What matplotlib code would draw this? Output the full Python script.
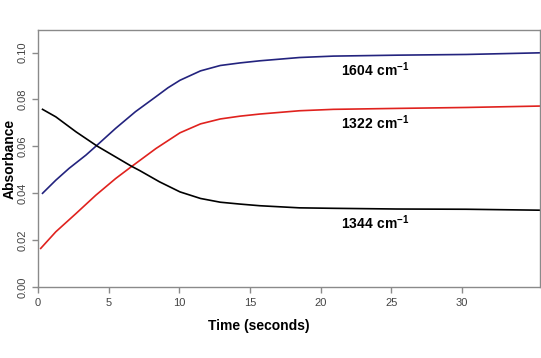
import matplotlib
matplotlib.use('Agg')
import matplotlib.pyplot as plt

plt.rcParams['font.family'] = ['Liberation Sans', 'DejaVu Sans']
plt.rcParams['mathtext.fontset'] = 'custom'
plt.rcParams['mathtext.rm'] = 'Liberation Sans'
plt.rcParams['mathtext.bf'] = 'Liberation Sans:bold'

# time (s) and absorbance
t_blue = [0.33, 1.27, 2.2, 3.4, 4.2, 5.5, 6.9, 8.35, 9.2, 10.05, 11.5, 12.9, 14.3, 15.7,
          18.5, 20.9, 25.4, 30.3, 35.5]
a_blue = [0.0400, 0.0456, 0.0506, 0.0563, 0.0606, 0.0677, 0.0748, 0.0812, 0.0850, 0.0882,
          0.0922, 0.0945, 0.0956, 0.0965, 0.0979, 0.0985, 0.0989, 0.0992, 0.0999]

t_red = [0.2, 1.27, 2.7, 4.1, 5.5, 6.6, 8.35, 10.05, 11.5, 12.9, 14.3, 15.7,
         18.5, 20.9, 25.4, 30.3, 35.5]
a_red = [0.0165, 0.0236, 0.0314, 0.0392, 0.0463, 0.0513, 0.0591, 0.0658, 0.0696,
         0.0717, 0.0729, 0.0738, 0.0752, 0.0758, 0.0762, 0.0766, 0.0772]

t_black = [0.33, 1.27, 2.7, 4.2, 5.5, 6.6, 7.2, 8.6, 10.05, 11.5, 12.9, 14.3, 15.7,
           18.5, 20.9, 25.4, 30.3, 35.5]
a_black = [0.0758, 0.0726, 0.0662, 0.0601, 0.0555, 0.0516, 0.0497, 0.0449, 0.0406,
           0.0378, 0.0362, 0.0354, 0.0347, 0.0338, 0.0336, 0.0333, 0.0332, 0.0328]

labels = [r'$\mathbf{1604\ cm^{-1}}$', r'$\mathbf{1322\ cm^{-1}}$', r'$\mathbf{1344\ cm^{-1}}$']
label_y = [0.0925, 0.0699, 0.0273]

fig = plt.figure(figsize=(5.41, 3.58), dpi=100)
ax = fig.add_axes([0.070, 0.198, 0.928, 0.718])

ax.plot(t_blue, a_blue, color='#23237e', lw=1.2)
ax.plot(t_red, a_red, color='#e0221e', lw=1.2)
ax.plot(t_black, a_black, color='black', lw=1.2)

for lab, y in zip(labels, label_y):
    ax.text(21.4, y, lab, fontsize=10, va='center', ha='left')

ax.set_xlim(0, 35.5)
ax.set_ylim(0, 0.1096)
ax.set_xticks([0, 5, 10, 15, 20, 25, 30])
ax.set_yticks([0, 0.02, 0.04, 0.06, 0.08, 0.10])
ax.set_yticklabels(['0.00', '0.02', '0.04', '0.06', '0.08', '0.10'], rotation=90, va='center')

for s in ax.spines.values():
    s.set_color('#8a8a8a')
    s.set_linewidth(1.0)
ax.tick_params(colors='#8a8a8a', labelcolor='#444444', labelsize=8, length=4, width=1)

ax.set_xlabel('Time (seconds)', fontsize=10, fontweight='bold')
ax.set_ylabel('Absorbance', fontsize=10, fontweight='bold')
ax.xaxis.set_label_coords(0.44, -0.125)
ax.yaxis.set_label_coords(-0.043, 0.5)

fig.savefig('out.png', dpi=100)
